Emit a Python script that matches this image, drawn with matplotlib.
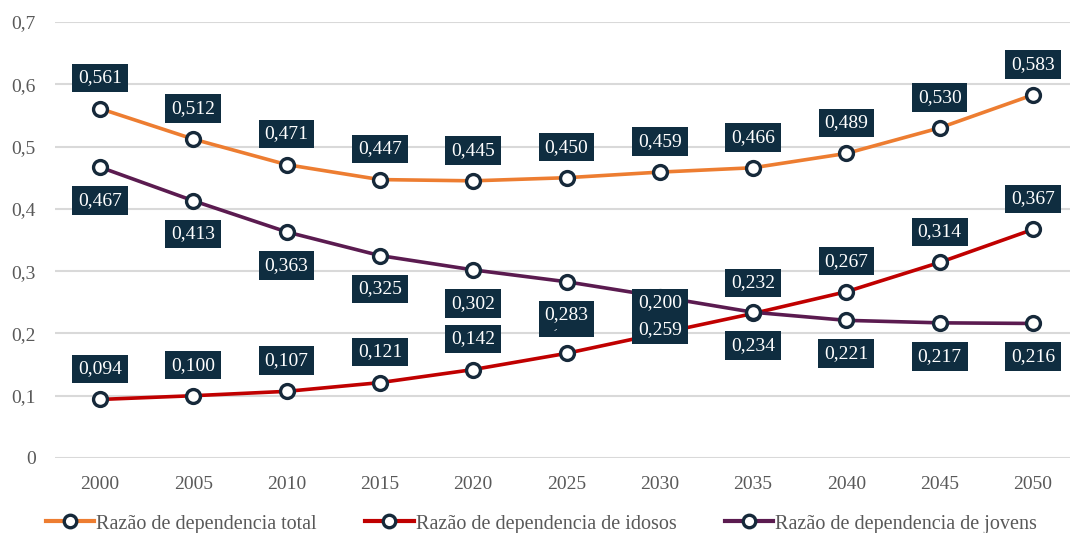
import numpy as np
import matplotlib
matplotlib.use("Agg")
import matplotlib.pyplot as plt
from matplotlib.lines import Line2D

years = [2000, 2005, 2010, 2015, 2020, 2025, 2030, 2035, 2040, 2045, 2050]
total = [0.561, 0.512, 0.471, 0.447, 0.445, 0.450, 0.459, 0.466, 0.489, 0.530, 0.583]
idosos = [0.094, 0.100, 0.107, 0.121, 0.142, 0.168, 0.200, 0.232, 0.267, 0.314, 0.367]
jovens = [0.467, 0.413, 0.363, 0.325, 0.302, 0.283, 0.259, 0.234, 0.221, 0.217, 0.216]
y_ticks = [0, 0.1, 0.2, 0.3, 0.4, 0.5, 0.6, 0.7]

names = ["Razão de dependencia total", "Razão de dependencia de idosos",
         "Razão de dependencia de jovens"]
colors = ["#ED7D31", "#C00000", "#5B1B50"]
edge = "#16293a"
box_col = "#0f2d40"
tick_col = "#595959"

plt.rcParams['font.family'] = ['Liberation Serif', 'DejaVu Serif']

fig = plt.figure(figsize=(10.72, 5.33), dpi=100)
ax = fig.add_axes([55 / 1072, 1 - 458 / 533, 1015 / 1072, 436 / 533])

x = np.arange(len(years))

def fmt(v):
    return ("%.3f" % v).replace(".", ",")

# order: total, idosos, jovens  (jovens labels end up on top)
series = [(total, 22), (idosos, 22), (jovens, -24)]
for i, (vals, off) in enumerate(series):
    ax.plot(x, vals, color=colors[i], lw=2.6, marker="o", ms=10,
            mfc="white", mec=edge, mew=2.4, zorder=3 + i, clip_on=False)
for i, (vals, off) in enumerate(series):
    for xi, v in zip(x, vals):
        ax.annotate(fmt(v), (xi, v), xytext=(0, off), textcoords="offset points",
                    ha="center", va="center", color="white", fontsize=14,
                    bbox=dict(boxstyle="square,pad=0.3", fc=box_col, ec="none"),
                    zorder=10 + i, annotation_clip=False)

ax.set_ylim(0, 0.7)
ax.set_xlim((55 - 100) / 93.3, (1070 - 100) / 93.3)
ax.set_yticks(y_ticks)
ax.set_yticklabels([("%.1f" % t).replace(".", ",") if t else "0" for t in y_ticks])
ax.set_xticks(x)
ax.set_xticklabels([str(y) for y in years])
ax.tick_params(axis="both", length=0, labelsize=14, colors=tick_col)
ax.tick_params(axis="y", pad=14)
ax.tick_params(axis="x", pad=13)
ax.grid(axis="y", color="#d9d9d9", lw=1.5)
ax.set_axisbelow(True)
for s in ax.spines.values():
    s.set_visible(False)

handles = [Line2D([0], [0], color=c, lw=3, marker="o", ms=9, mfc="white",
                  mec=edge, mew=2.4) for c in colors]
fig.legend(handles, names, loc="lower center", bbox_to_anchor=(0.505, -0.035),
           ncol=3, frameon=False, fontsize=14.5, handlelength=2.4,
           handletextpad=0.1, columnspacing=2.4, labelcolor=tick_col)

fig.savefig("out.png", dpi=100)
